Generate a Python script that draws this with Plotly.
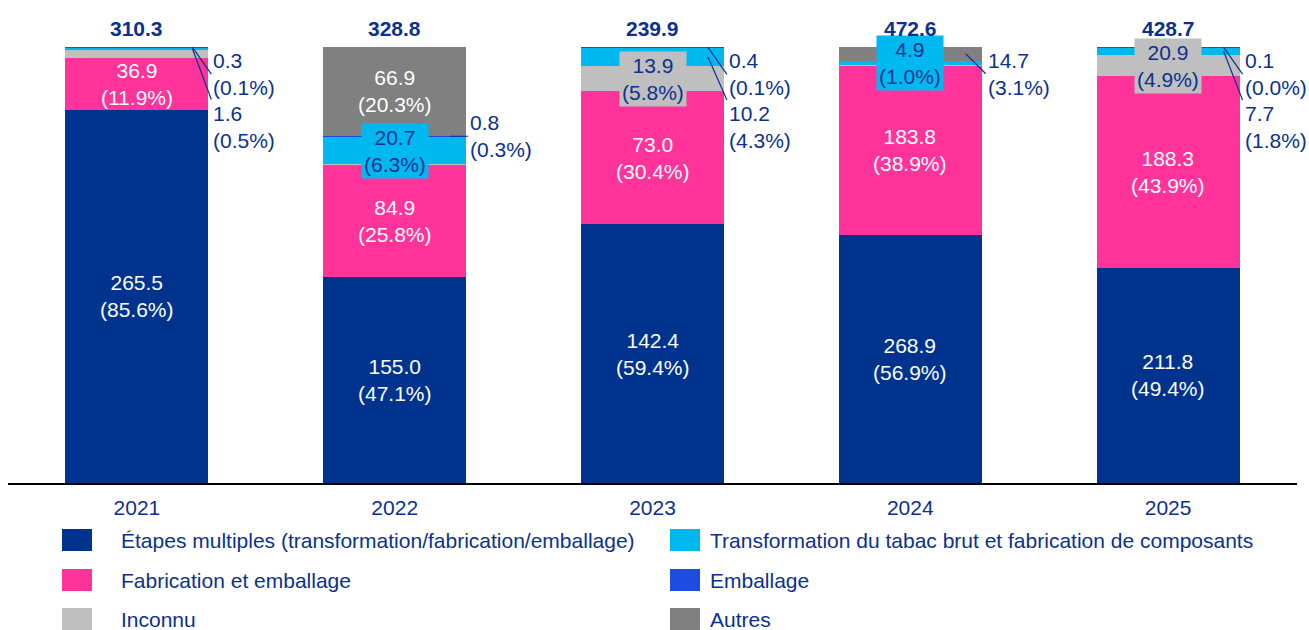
import plotly.graph_objects as go

# ---------------- data ----------------
years = ["2021", "2022", "2023", "2024", "2025"]
etapes = [265.5, 155.0, 142.4, 268.9, 211.8]
fabrication = [36.9, 84.9, 73.0, 183.8, 188.3]
inconnu = [6.0, 0.46, 13.9, 0.3, 20.9]
transformation = [1.6, 20.7, 10.2, 4.9, 7.7]
emballage = [0.3, 0.84, 0.355, 0.0, 0.1]
autres = [0.0, 66.9, 0.0, 14.7, 0.0]
totals = [310.3, 328.8, 239.9, 472.6, 428.7]

names = {
    "etapes": "Étapes multiples (transformation/fabrication/emballage)",
    "fabrication": "Fabrication et emballage",
    "inconnu": "Inconnu",
    "transformation": "Transformation du tabac brut et fabrication de composants",
    "emballage": "Emballage",
    "autres": "Autres",
}
series = {
    "etapes": etapes,
    "fabrication": fabrication,
    "inconnu": inconnu,
    "transformation": transformation,
    "emballage": emballage,
    "autres": autres,
}

# ---------------- style ----------------
colors = {
    "etapes": "#00338D",
    "fabrication": "#FF3399",
    "inconnu": "#BFBFBF",
    "transformation": "#00B8F0",
    "emballage": "#1F4CE0",
    "autres": "#808080",
}
NAVY = "#0B318F"
FONT = "Liberation Sans, Arial, sans-serif"
FS = 21

inside_labels = [("etapes", i) for i in range(5)] + [("fabrication", i) for i in range(5)] + [("autres", 1)]
boxed_labels = [("transformation", 1), ("inconnu", 2), ("transformation", 3), ("inconnu", 4)]
# (series, year index, ax, ay, yanchor)
outside_labels = [
    ("emballage", 0, 19, 27, "middle"),
    ("transformation", 0, 19, 51, "top"),
    ("emballage", 1, 18, 0, "middle"),
    ("emballage", 2, 19, 27, "middle"),
    ("transformation", 2, 19, 43, "top"),
    ("autres", 3, 20, 20, "middle"),
    ("emballage", 4, 19, 27, "middle"),
    ("transformation", 4, 19, 49, "top"),
]

order = ["etapes", "fabrication", "inconnu", "transformation", "emballage", "autres"]
xs = list(range(len(years)))

fig = go.Figure()
for key in order:
    fig.add_trace(go.Bar(
        x=xs, y=series[key], name=names[key],
        marker=dict(color=colors[key], line=dict(width=0)),
        width=0.555, showlegend=False, hoverinfo="y+name",
    ))

sums = [sum(series[k][i] for k in order) for i in range(5)]
mids = {}
for i in range(5):
    cum = 0.0
    for k in order:
        v = series[k][i] / sums[i] * 100
        mids[(k, i)] = cum + v / 2
        cum += v


def label(k, i):
    v = series[k][i]
    return f"{v:.1f}<br>({v / totals[i] * 100:.1f}%)"


annotations = []
for k, i in inside_labels:
    annotations.append(dict(
        x=i, y=mids[(k, i)], text=label(k, i), showarrow=False,
        font=dict(family=FONT, size=FS, color="white"),
    ))
for k, i in boxed_labels:
    annotations.append(dict(
        x=i, y=mids[(k, i)], text=label(k, i), showarrow=False,
        font=dict(family=FONT, size=FS, color=NAVY),
        bgcolor=colors[k], borderpad=2,
    ))
for k, i, ax, ay, ya in outside_labels:
    annotations.append(dict(
        x=i + 0.215, y=mids[(k, i)], text=label(k, i), showarrow=True,
        arrowhead=0, arrowwidth=1.2, arrowcolor=NAVY, ax=ax, ay=ay,
        xanchor="left", yanchor=ya, align="left",
        font=dict(family=FONT, size=FS, color=NAVY),
    ))
for i, t in enumerate(totals):
    annotations.append(dict(
        x=i, y=100, text=f"<b>{t:.1f}</b>", showarrow=False,
        yanchor="bottom", yshift=5,
        font=dict(family=FONT, size=FS, color=NAVY),
    ))

legend_rows = [["etapes", "transformation"], ["fabrication", "emballage"], ["inconnu", "autres"]]
col_sq_x = [62, 670]
col_tx_x = [119, 708]
row_y = [540, 580, 619]
W, H, L, T, PH = 1309, 630, 8, 47, 436
PW = W - L - 12
shapes = []
for r, row in enumerate(legend_rows):
    for c, k in enumerate(row):
        yc = row_y[r]
        shapes.append(dict(
            type="rect", xref="paper", yref="paper",
            x0=(col_sq_x[c] - L) / PW, x1=(col_sq_x[c] + 30 - L) / PW,
            y0=(T + PH - (yc - 11)) / PH, y1=(T + PH - (yc + 11)) / PH,
            fillcolor=colors[k], line=dict(width=0),
        ))
        annotations.append(dict(
            xref="paper", yref="paper", x=(col_tx_x[c] - L) / PW,
            y=(T + PH - yc) / PH, text=names[k], showarrow=False,
            xanchor="left", yanchor="middle",
            font=dict(family=FONT, size=FS, color=NAVY),
        ))

fig.update_layout(
    width=W, height=H,
    margin=dict(l=L, r=12, t=T, b=H - T - PH),
    barmode="stack", barnorm="percent",
    plot_bgcolor="white", paper_bgcolor="white",
    annotations=annotations, shapes=shapes,
    font=dict(family=FONT, size=FS, color=NAVY),
    xaxis=dict(range=[-0.5, 4.5], tickmode="array", tickvals=xs, ticktext=years,
               showline=True, linecolor="black", linewidth=2,
               ticks="", showgrid=False, zeroline=False, ticklabelstandoff=5,
               tickfont=dict(family=FONT, size=FS, color=NAVY)),
    yaxis=dict(visible=False, range=[0, 100], showgrid=False, zeroline=False),
)

fig.write_html("out.html", config={"displayModeBar": False},
               post_script="document.body.style.margin='0';")
